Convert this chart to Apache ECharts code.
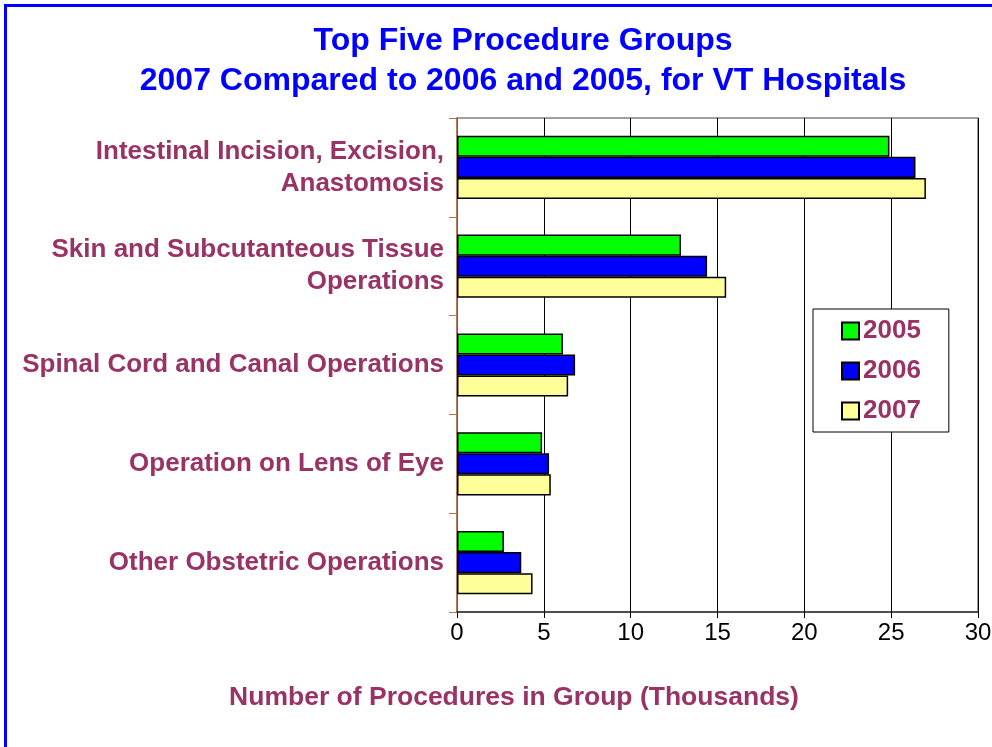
<!DOCTYPE html>
<html>
<head>
<meta charset="utf-8">
<script src="https://cdn.jsdelivr.net/npm/echarts@6/dist/echarts.min.js"></script>
<style>
  html, body { margin: 0; padding: 0; background: #fff; }
  #frame { position: absolute; left: 4px; top: 4px; width: 1200px; height: 1000px;
           border-left: 3px solid #0000ff; border-top: 3px solid #0000ff; }
  #chart { position: absolute; left: 0; top: 0; width: 992px; height: 747px; }
</style>
</head>
<body>
<div id="frame"></div>
<div id="chart"></div>
<script>
// 数据
const categories = [
  'Intestinal Incision, Excision,\nAnastomosis',
  'Skin and Subcutanteous Tissue\nOperations',
  'Spinal Cord and Canal Operations',
  'Operation on Lens of Eye',
  'Other Obstetric Operations'
];
const years = ['2005', '2006', '2007'];
const values2005 = [24.9, 12.9, 6.1, 4.9, 2.7];
const values2006 = [26.4, 14.4, 6.8, 5.3, 3.7];
const values2007 = [27.0, 15.5, 6.4, 5.4, 4.35];
const xTicks = [0, 5, 10, 15, 20, 25, 30];

const colors = ['#00ff00', '#0000ff', '#ffff99'];
const labelColor = '#993366';
const seriesValues = [values2005, values2006, values2007];

const chart = echarts.init(document.getElementById('chart'));
const option = {
  animation: false,
  title: {
    text: 'Top Five Procedure Groups\n2007 Compared to 2006 and 2005, for VT Hospitals',
    left: 518,
    textAlign: 'center',
    top: 16,
    textStyle: {
      color: '#0000ff',
      fontFamily: 'Liberation Sans',
      fontWeight: 'bold',
      fontSize: 32,
      lineHeight: 40
    }
  },
  legend: {
    orient: 'vertical',
    left: 813,
    top: 309,
    padding: [9, 28, 8, 28],
    itemGap: 14,
    itemWidth: 17,
    itemHeight: 17,
    icon: 'rect',
    borderColor: '#000',
    borderWidth: 1,
    backgroundColor: '#fff',
    data: years,
    textStyle: {
      color: labelColor,
      fontFamily: 'Liberation Sans',
      fontWeight: 'bold',
      fontSize: 26,
      padding: [0, 0, 0, -1]
    }
  },
  grid: {
    left: 457,
    right: 14,
    top: 118,
    bottom: 135,
    outerBoundsMode: 'none',
    show: true,
    borderColor: '#808080',
    borderWidth: 1.5,
    backgroundColor: '#fff'
  },
  xAxis: {
    type: 'value',
    min: xTicks[0],
    max: xTicks[xTicks.length - 1],
    interval: 5,
    name: 'Number of Procedures in Group (Thousands)',
    nameLocation: 'middle',
    nameGap: 72,
    nameTextStyle: {
      color: labelColor,
      fontFamily: 'Liberation Sans',
      fontWeight: 'bold',
      fontSize: 26.5,
      padding: [0, 407, 0, 0]
    },
    axisLine: { show: true, lineStyle: { color: '#333', width: 1.5 } },
    axisTick: { show: true, length: 6, lineStyle: { color: '#000' } },
    axisLabel: {
      color: '#000',
      fontFamily: 'Liberation Sans',
      fontSize: 24,
      margin: 9
    },
    splitLine: { show: true, lineStyle: { color: '#000', width: 1 } }
  },
  yAxis: {
    type: 'category',
    inverse: true,
    data: categories,
    axisLine: { show: true, lineStyle: { color: '#b8734a', width: 1.5 } },
    axisTick: { show: true, length: 8, lineStyle: { color: '#c0704a' } },
    axisLabel: {
      color: labelColor,
      fontFamily: 'Liberation Sans',
      fontWeight: 'bold',
      fontSize: 26,
      lineHeight: 32,
      margin: 13,
      align: 'right'
    }
  },
  series: years.map((y, i) => ({
    name: y,
    type: 'bar',
    data: seriesValues[i],
    barGap: '0%',
    barCategoryGap: '36%',
    itemStyle: {
      color: colors[i],
      borderColor: '#000',
      borderWidth: 1.5
    }
  }))
};
chart.setOption(option);
</script>
</body>
</html>
